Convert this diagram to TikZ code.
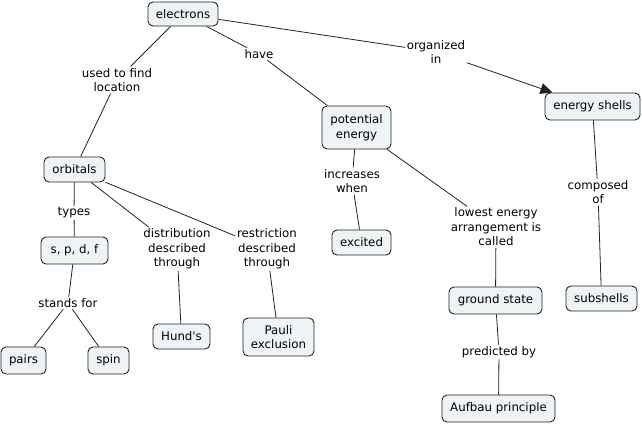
\documentclass[tikz,border=0pt]{standalone}
\usepackage{fontspec}
\setmainfont{DejaVu Sans}
\usetikzlibrary{arrows.meta}
\definecolor{boxfill}{HTML}{EEF4F6}
\definecolor{edge}{HTML}{222222}
\tikzset{
  concept/.style={draw=edge, fill=boxfill, rounded corners=5pt, line width=0.9pt,
    align=center, inner sep=2pt, font=\fontsize{11.8}{14.5}\selectfont},
  lbl/.style={align=center, inner sep=1.5pt, font=\fontsize{11.8}{14.5}\selectfont},
  link/.style={draw=edge, line width=0.8pt},
  arrowlink/.style={link, -{Triangle[length=12pt,width=11pt]}},
}
\begin{document}
\begin{tikzpicture}[x=1pt,y=-1pt]
\useasboundingbox (0,0) rectangle (642,424);
% concepts
\node[concept, minimum width=70pt, minimum height=24pt] (electrons) at (183,14) {electrons};
\node[concept, minimum width=61pt, minimum height=25pt] (orbitals) at (74.5,169.5) {orbitals};
\node[concept, minimum width=69pt, minimum height=43pt] (pe) at (356.5,127.5) {potential\\energy};
\node[concept, minimum width=95pt, minimum height=27pt] (shells) at (592.5,106.5) {energy shells};
\node[concept, minimum width=67pt, minimum height=27pt] (spdf) at (74.5,250.5) {s, p, d, f};
\node[concept, minimum width=57pt, minimum height=25pt] (hund) at (181.5,336.5) {Hund\textquotesingle s};
\node[concept, minimum width=71pt, minimum height=38pt] (pauli) at (278.5,337) {Pauli\\exclusion};
\node[concept, minimum width=45pt, minimum height=27pt] (pairs) at (23.5,360.5) {pairs};
\node[concept, minimum width=41pt, minimum height=27pt] (spin) at (108.5,360.5) {spin};
\node[concept, minimum width=59pt, minimum height=25pt] (excited) at (361.5,242.5) {excited};
\node[concept, minimum width=93pt, minimum height=27pt] (ground) at (495.5,300.5) {ground state};
\node[concept, minimum width=71pt, minimum height=25pt] (sub) at (601.5,298.5) {subshells};
\node[concept, minimum width=113pt, minimum height=27pt] (aufbau) at (498.5,408.5) {Aufbau principle};
% linking phrases
\node[lbl] (l1) at (117,80) {used to find\\location};
\node[lbl] (l2) at (259,54) {have};
\node[lbl] (l3) at (436,52) {organized\\in};
\node[lbl] (l4) at (352,181) {increases\\when};
\node[lbl] (l5) at (598,192) {composed\\of};
\node[lbl] (l6) at (74,213) {types};
\node[lbl] (l7) at (177,249) {distribution\\described\\through};
\node[lbl] (l8) at (267,249) {restriction\\described\\through};
\node[lbl] (l9) at (68,303) {stands for};
\node[lbl] (l10) at (496,227) {lowest energy\\arrangement is\\called};
\node[lbl] (l11) at (499,352) {predicted by};
% connectors
\draw[link] (electrons) -- (l1);
\draw[link] (l1) -- (orbitals);
\draw[link] (electrons) -- (l2);
\draw[link] (l2) -- (pe);
\draw[link] (electrons) -- (l3);
\draw[arrowlink] (l3) -- (shells);
\draw[link] (pe) -- (l4);
\draw[link] (l4) -- (excited);
\draw[link] (pe) -- (l10);
\draw[link] (l10) -- (ground);
\draw[link] (ground) -- (l11);
\draw[link] (l11) -- (aufbau);
\draw[link] (shells) -- (l5);
\draw[link] (l5) -- (sub);
\draw[link] (orbitals) -- (l6);
\draw[link] (l6) -- (spdf);
\draw[link] (orbitals) -- (l7);
\draw[link] (l7) -- (hund);
\draw[link] (orbitals) -- (l8);
\draw[link] (l8) -- (pauli);
\draw[link] (spdf) -- (l9);
\draw[link] (l9) -- (pairs);
\draw[link] (l9) -- (spin);
\end{tikzpicture}
\end{document}
